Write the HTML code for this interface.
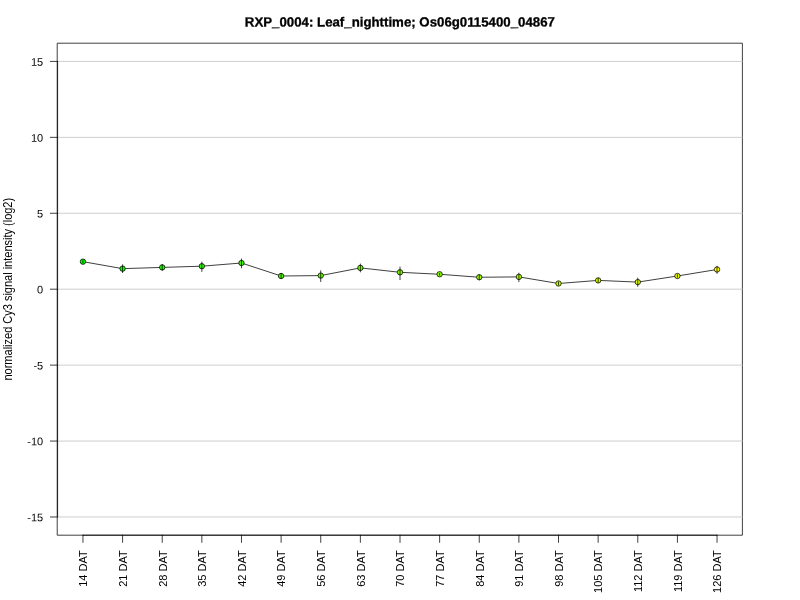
<!DOCTYPE html><html lang="en"><head><meta charset="utf-8"><title>RXP_0004</title>
<style>html,body{margin:0;padding:0;background:#fff;}svg{display:block;will-change:transform;}text{font-family:"Liberation Sans",sans-serif;fill:#000;}line,polyline,rect.bx{stroke-linecap:round;stroke-linejoin:round;}</style></head><body>
<svg width="800" height="600" viewBox="0 0 800 600">
<rect width="800" height="600" fill="#fff"/>
<text transform="translate(399.9,26.45) rotate(-0.03)" font-size="13.25" font-weight="bold" text-anchor="middle" stroke="#000" stroke-width="0.3">RXP_0004: Leaf_nighttime; Os06g0115400_04867</text>
<rect class="bx" x="57.6" y="43.2" width="684.80" height="492.00" fill="none" stroke="#000" stroke-width="0.75"/>
<line x1="57.6" x2="742.4" y1="516.98" y2="516.98" stroke="#bebebe" stroke-width="0.75"/>
<line x1="57.6" x2="742.4" y1="441.05" y2="441.05" stroke="#bebebe" stroke-width="0.75"/>
<line x1="57.6" x2="742.4" y1="365.13" y2="365.13" stroke="#bebebe" stroke-width="0.75"/>
<line x1="57.6" x2="742.4" y1="289.20" y2="289.20" stroke="#bebebe" stroke-width="0.75"/>
<line x1="57.6" x2="742.4" y1="213.27" y2="213.27" stroke="#bebebe" stroke-width="0.75"/>
<line x1="57.6" x2="742.4" y1="137.35" y2="137.35" stroke="#bebebe" stroke-width="0.75"/>
<line x1="57.6" x2="742.4" y1="61.42" y2="61.42" stroke="#bebebe" stroke-width="0.75"/>
<line x1="57.6" x2="57.6" y1="61.42" y2="516.98" stroke="#000" stroke-width="0.75"/>
<line x1="50.40" x2="57.6" y1="516.98" y2="516.98" stroke="#000" stroke-width="0.75"/>
<text transform="translate(43.2,521.28) rotate(-0.03)" font-size="11" text-anchor="end">-15</text>
<line x1="50.40" x2="57.6" y1="441.05" y2="441.05" stroke="#000" stroke-width="0.75"/>
<text transform="translate(43.2,445.35) rotate(-0.03)" font-size="11" text-anchor="end">-10</text>
<line x1="50.40" x2="57.6" y1="365.13" y2="365.13" stroke="#000" stroke-width="0.75"/>
<text transform="translate(43.2,369.43) rotate(-0.03)" font-size="11" text-anchor="end">-5</text>
<line x1="50.40" x2="57.6" y1="289.20" y2="289.20" stroke="#000" stroke-width="0.75"/>
<text transform="translate(43.2,293.50) rotate(-0.03)" font-size="11" text-anchor="end">0</text>
<line x1="50.40" x2="57.6" y1="213.27" y2="213.27" stroke="#000" stroke-width="0.75"/>
<text transform="translate(43.2,217.57) rotate(-0.03)" font-size="11" text-anchor="end">5</text>
<line x1="50.40" x2="57.6" y1="137.35" y2="137.35" stroke="#000" stroke-width="0.75"/>
<text transform="translate(43.2,141.65) rotate(-0.03)" font-size="11" text-anchor="end">10</text>
<line x1="50.40" x2="57.6" y1="61.42" y2="61.42" stroke="#000" stroke-width="0.75"/>
<text transform="translate(43.2,65.72) rotate(-0.03)" font-size="11" text-anchor="end">15</text>
<line x1="82.96" x2="717.04" y1="535.2" y2="535.2" stroke="#000" stroke-width="0.75"/>
<line x1="82.96" x2="82.96" y1="535.2" y2="542.40" stroke="#000" stroke-width="0.75"/>
<text transform="translate(87.26,550.30) rotate(-90)" font-size="11" text-anchor="end">14 DAT</text>
<line x1="122.59" x2="122.59" y1="535.2" y2="542.40" stroke="#000" stroke-width="0.75"/>
<text transform="translate(126.89,550.30) rotate(-90)" font-size="11" text-anchor="end">21 DAT</text>
<line x1="162.22" x2="162.22" y1="535.2" y2="542.40" stroke="#000" stroke-width="0.75"/>
<text transform="translate(166.52,550.30) rotate(-90)" font-size="11" text-anchor="end">28 DAT</text>
<line x1="201.85" x2="201.85" y1="535.2" y2="542.40" stroke="#000" stroke-width="0.75"/>
<text transform="translate(206.15,550.30) rotate(-90)" font-size="11" text-anchor="end">35 DAT</text>
<line x1="241.48" x2="241.48" y1="535.2" y2="542.40" stroke="#000" stroke-width="0.75"/>
<text transform="translate(245.78,550.30) rotate(-90)" font-size="11" text-anchor="end">42 DAT</text>
<line x1="281.11" x2="281.11" y1="535.2" y2="542.40" stroke="#000" stroke-width="0.75"/>
<text transform="translate(285.41,550.30) rotate(-90)" font-size="11" text-anchor="end">49 DAT</text>
<line x1="320.74" x2="320.74" y1="535.2" y2="542.40" stroke="#000" stroke-width="0.75"/>
<text transform="translate(325.04,550.30) rotate(-90)" font-size="11" text-anchor="end">56 DAT</text>
<line x1="360.37" x2="360.37" y1="535.2" y2="542.40" stroke="#000" stroke-width="0.75"/>
<text transform="translate(364.67,550.30) rotate(-90)" font-size="11" text-anchor="end">63 DAT</text>
<line x1="400.00" x2="400.00" y1="535.2" y2="542.40" stroke="#000" stroke-width="0.75"/>
<text transform="translate(404.30,550.30) rotate(-90)" font-size="11" text-anchor="end">70 DAT</text>
<line x1="439.63" x2="439.63" y1="535.2" y2="542.40" stroke="#000" stroke-width="0.75"/>
<text transform="translate(443.93,550.30) rotate(-90)" font-size="11" text-anchor="end">77 DAT</text>
<line x1="479.26" x2="479.26" y1="535.2" y2="542.40" stroke="#000" stroke-width="0.75"/>
<text transform="translate(483.56,550.30) rotate(-90)" font-size="11" text-anchor="end">84 DAT</text>
<line x1="518.89" x2="518.89" y1="535.2" y2="542.40" stroke="#000" stroke-width="0.75"/>
<text transform="translate(523.19,550.30) rotate(-90)" font-size="11" text-anchor="end">91 DAT</text>
<line x1="558.52" x2="558.52" y1="535.2" y2="542.40" stroke="#000" stroke-width="0.75"/>
<text transform="translate(562.82,550.30) rotate(-90)" font-size="11" text-anchor="end">98 DAT</text>
<line x1="598.15" x2="598.15" y1="535.2" y2="542.40" stroke="#000" stroke-width="0.75"/>
<text transform="translate(602.45,550.30) rotate(-90)" font-size="11" text-anchor="end">105 DAT</text>
<line x1="637.78" x2="637.78" y1="535.2" y2="542.40" stroke="#000" stroke-width="0.75"/>
<text transform="translate(642.08,550.30) rotate(-90)" font-size="11" text-anchor="end">112 DAT</text>
<line x1="677.41" x2="677.41" y1="535.2" y2="542.40" stroke="#000" stroke-width="0.75"/>
<text transform="translate(681.71,550.30) rotate(-90)" font-size="11" text-anchor="end">119 DAT</text>
<line x1="717.04" x2="717.04" y1="535.2" y2="542.40" stroke="#000" stroke-width="0.75"/>
<text transform="translate(721.34,550.30) rotate(-90)" font-size="11" text-anchor="end">126 DAT</text>
<text transform="translate(11.6,289.20) rotate(-90) scale(1,1.08)" font-size="11" text-anchor="middle">normalized Cy3 signal intensity (log2)</text>
<polyline fill="none" stroke="#000" stroke-width="0.75" points="82.96,261.67 122.59,268.65 162.22,267.40 201.85,266.20 241.48,263.00 281.11,276.00 320.74,275.60 360.37,267.90 400.00,272.30 439.63,274.25 479.26,277.25 518.89,276.90 558.52,283.50 598.15,280.40 637.78,282.10 677.41,276.00 717.04,269.50"/>
<circle cx="82.96" cy="261.67" r="2.7" fill="rgb(0,255,0)" stroke="#000" stroke-width="0.75"/>
<circle cx="122.59" cy="268.65" r="2.7" fill="rgb(16,255,0)" stroke="#000" stroke-width="0.75"/>
<circle cx="162.22" cy="267.40" r="2.7" fill="rgb(32,255,0)" stroke="#000" stroke-width="0.75"/>
<circle cx="201.85" cy="266.20" r="2.7" fill="rgb(48,255,0)" stroke="#000" stroke-width="0.75"/>
<circle cx="241.48" cy="263.00" r="2.7" fill="rgb(64,255,0)" stroke="#000" stroke-width="0.75"/>
<circle cx="281.11" cy="276.00" r="2.7" fill="rgb(80,255,0)" stroke="#000" stroke-width="0.75"/>
<circle cx="320.74" cy="275.60" r="2.7" fill="rgb(96,255,0)" stroke="#000" stroke-width="0.75"/>
<circle cx="360.37" cy="267.90" r="2.7" fill="rgb(112,255,0)" stroke="#000" stroke-width="0.75"/>
<circle cx="400.00" cy="272.30" r="2.7" fill="rgb(128,255,0)" stroke="#000" stroke-width="0.75"/>
<circle cx="439.63" cy="274.25" r="2.7" fill="rgb(143,255,0)" stroke="#000" stroke-width="0.75"/>
<circle cx="479.26" cy="277.25" r="2.7" fill="rgb(159,255,0)" stroke="#000" stroke-width="0.75"/>
<circle cx="518.89" cy="276.90" r="2.7" fill="rgb(175,255,0)" stroke="#000" stroke-width="0.75"/>
<circle cx="558.52" cy="283.50" r="2.7" fill="rgb(191,255,0)" stroke="#000" stroke-width="0.75"/>
<circle cx="598.15" cy="280.40" r="2.7" fill="rgb(207,255,0)" stroke="#000" stroke-width="0.75"/>
<circle cx="637.78" cy="282.10" r="2.7" fill="rgb(223,255,0)" stroke="#000" stroke-width="0.75"/>
<circle cx="677.41" cy="276.00" r="2.7" fill="rgb(239,255,0)" stroke="#000" stroke-width="0.75"/>
<circle cx="717.04" cy="269.50" r="2.7" fill="rgb(255,255,0)" stroke="#000" stroke-width="0.75"/>
<line x1="82.96" x2="82.96" y1="260.70" y2="262.70" stroke="#000" stroke-width="0.75"/>
<line x1="122.59" x2="122.59" y1="264.75" y2="272.60" stroke="#000" stroke-width="0.75"/>
<line x1="162.22" x2="162.22" y1="264.40" y2="270.40" stroke="#000" stroke-width="0.75"/>
<line x1="201.85" x2="201.85" y1="262.00" y2="271.40" stroke="#000" stroke-width="0.75"/>
<line x1="241.48" x2="241.48" y1="259.00" y2="267.85" stroke="#000" stroke-width="0.75"/>
<line x1="281.11" x2="281.11" y1="273.50" y2="278.50" stroke="#000" stroke-width="0.75"/>
<line x1="320.74" x2="320.74" y1="270.75" y2="281.60" stroke="#000" stroke-width="0.75"/>
<line x1="360.37" x2="360.37" y1="264.00" y2="271.90" stroke="#000" stroke-width="0.75"/>
<line x1="400.00" x2="400.00" y1="267.00" y2="279.60" stroke="#000" stroke-width="0.75"/>
<line x1="439.63" x2="439.63" y1="273.25" y2="275.25" stroke="#000" stroke-width="0.75"/>
<line x1="479.26" x2="479.26" y1="274.75" y2="279.75" stroke="#000" stroke-width="0.75"/>
<line x1="518.89" x2="518.89" y1="273.10" y2="281.65" stroke="#000" stroke-width="0.75"/>
<line x1="558.52" x2="558.52" y1="282.00" y2="285.00" stroke="#000" stroke-width="0.75"/>
<line x1="598.15" x2="598.15" y1="278.40" y2="282.40" stroke="#000" stroke-width="0.75"/>
<line x1="637.78" x2="637.78" y1="278.10" y2="286.40" stroke="#000" stroke-width="0.75"/>
<line x1="677.41" x2="677.41" y1="274.60" y2="277.40" stroke="#000" stroke-width="0.75"/>
<line x1="717.04" x2="717.04" y1="266.25" y2="273.40" stroke="#000" stroke-width="0.75"/>
</svg></body></html>
